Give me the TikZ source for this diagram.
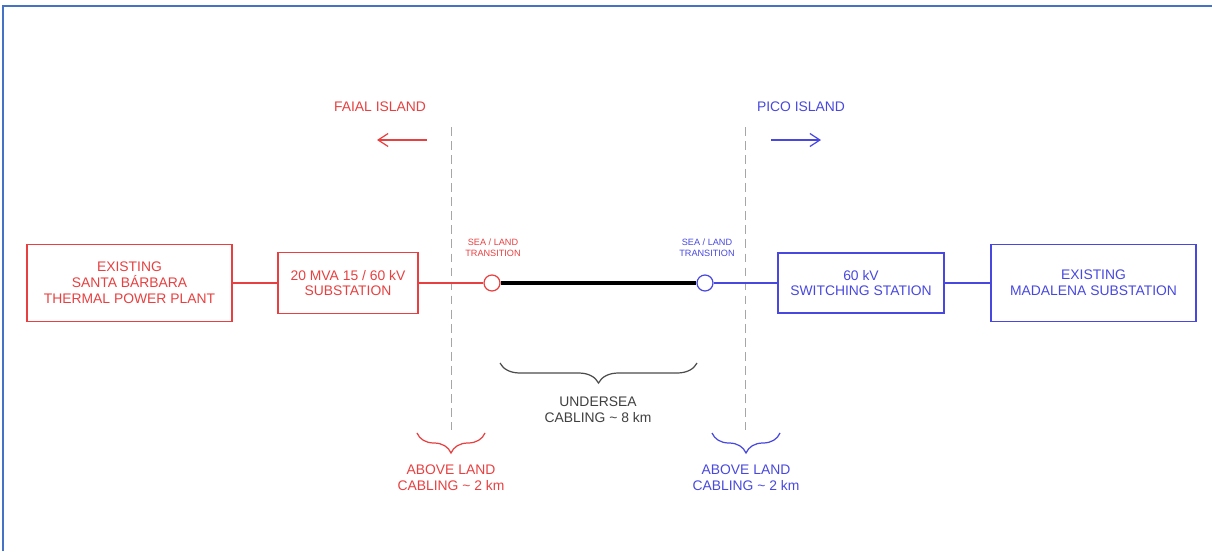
\documentclass[tikz,border=0pt]{standalone}
\usepackage{fontspec}
\setmainfont{Liberation Sans}
\usetikzlibrary{arrows.meta, decorations.pathreplacing}
\definecolor{faialred}{RGB}{232,64,64}
\definecolor{picoblue}{RGB}{72,72,224}
\definecolor{frameblue}{RGB}{68,114,196}

\begin{document}
\begin{tikzpicture}[x=0.02cm, y=-0.02cm, >={Straight Barb[length=2mm,width=2.6mm]},
  box/.style={draw, line width=0.7pt, align=center, inner sep=0pt, font=\fontsize{7.9}{9}\selectfont},
  trans/.style={circle, draw, line width=0.7pt, fill=white, minimum size=0.32cm, inner sep=0pt},
  tiny/.style={align=center, font=\fontsize{5.2}{6}\selectfont},
  lbl/.style={align=center, font=\fontsize{7.9}{9}\selectfont},
  brc/.style={decorate, decoration={brace, amplitude=0.4cm}, line width=0.7pt},
  divider/.style={gray!70, line width=0.5pt, dash pattern=on 5pt off 3pt}]
\useasboundingbox (0,0) rectangle (1212,551);
\draw[frameblue, line width=1.2pt] (3,551) -- (3,6) -- (1212,6);
% islands
\node[lbl, faialred] (faial) at (380,107) {FAIAL ISLAND};
\node[lbl, picoblue] (pico) at (801,107) {PICO ISLAND};
\coordinate (fa0) at (427,140); \coordinate (fa1) at (377,140);
\coordinate (pa0) at (771,140); \coordinate (pa1) at (821,140);
\draw[->, faialred, line width=0.7pt] (fa0) -- (fa1);
\draw[->, picoblue, line width=0.7pt] (pa0) -- (pa1);
% shore lines
\coordinate (sl0) at (451,127); \coordinate (sl1) at (451,430);
\coordinate (sr0) at (745,127); \coordinate (sr1) at (745,430);
\draw[divider] (sl0) -- (sl1);
\draw[divider] (sr0) -- (sr1);
% chain
\node[box, faialred, minimum width=4.1cm, minimum height=1.54cm] (plant) at (129.5,283) {EXISTING\\SANTA BÁRBARA\\THERMAL POWER PLANT};
\node[box, faialred, minimum width=2.8cm, minimum height=1.22cm] (subst) at (348,283) {20 MVA 15 / 60 kV\\SUBSTATION};
\node[trans, draw=faialred] (tfaial) at (492,283) {};
\node[trans, draw=picoblue] (tpico) at (705,283) {};
\node[box, picoblue, minimum width=3.32cm, minimum height=1.2cm] (switch) at (861,283) {60 kV\\SWITCHING STATION};
\node[box, picoblue, minimum width=4.1cm, minimum height=1.54cm] (madalena) at (1093.5,283) {EXISTING\\MADALENA SUBSTATION};
\draw[faialred, line width=0.7pt] (plant) -- (subst);
\draw[faialred, line width=0.7pt] (subst) -- (tfaial);
\draw[line width=2.2pt] (tfaial) -- (tpico);
\draw[picoblue, line width=0.7pt] (tpico) -- (switch);
\draw[picoblue, line width=0.7pt] (switch) -- (madalena);
\node[tiny, faialred] (tfaiallbl) at (493,248) {SEA / LAND\\TRANSITION};
\node[tiny, picoblue] (tpicolbl) at (707,248) {SEA / LAND\\TRANSITION};
% cable lengths
\coordinate (ub0) at (697,363); \coordinate (ub1) at (500,363);
\draw[brc, black!70] (ub0) -- (ub1);
\node[lbl, black!75] (undersea) at (598,410) {UNDERSEA\\CABLING \textasciitilde{} 8 km};
\coordinate (lb0) at (485,433); \coordinate (lb1) at (417,433);
\draw[brc, faialred] (lb0) -- (lb1);
\node[lbl, faialred] (landfaial) at (451,478) {ABOVE LAND\\CABLING \textasciitilde{} 2 km};
\coordinate (rb0) at (780,433); \coordinate (rb1) at (712,433);
\draw[brc, picoblue] (rb0) -- (rb1);
\node[lbl, picoblue] (landpico) at (746,478) {ABOVE LAND\\CABLING \textasciitilde{} 2 km};
\end{tikzpicture}
\end{document}
